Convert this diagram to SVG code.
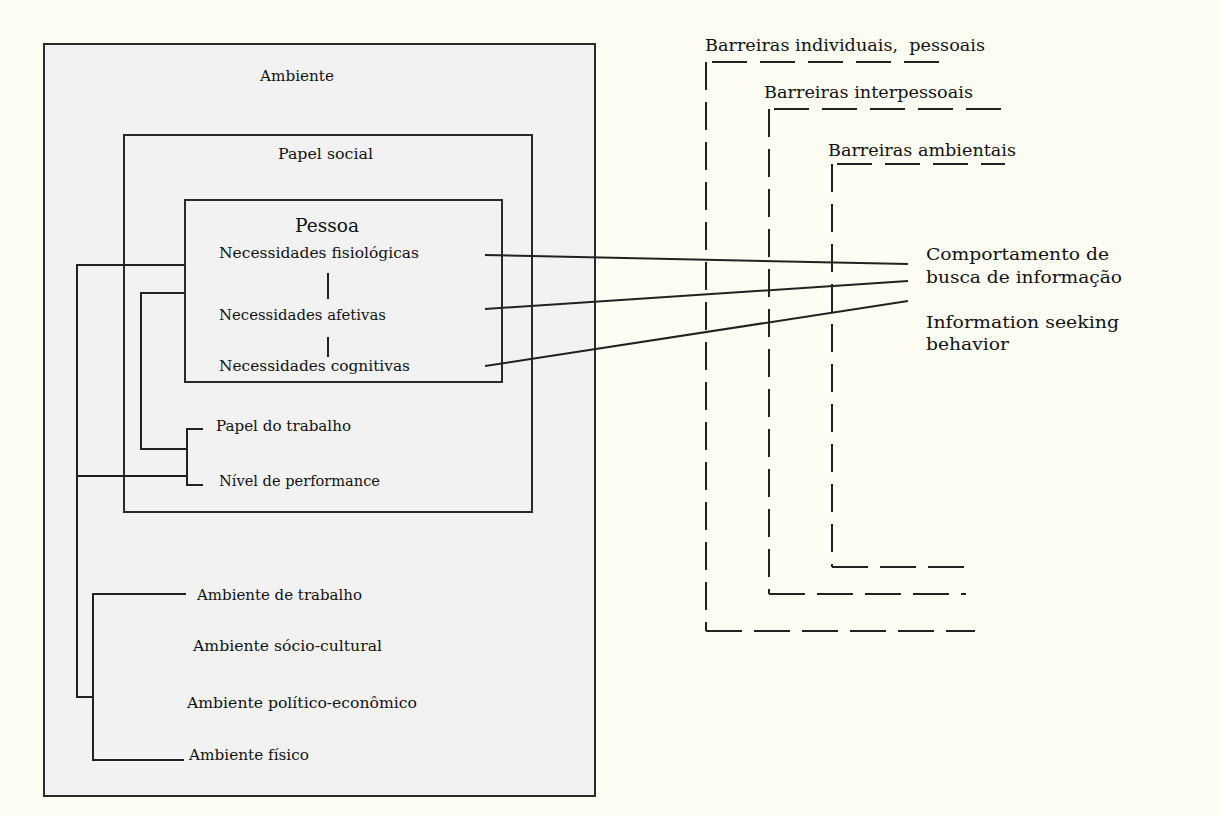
<svg xmlns="http://www.w3.org/2000/svg" width="1220" height="816" viewBox="0 0 1220 816">
<style>
.box{fill:#f2f2f2;stroke:#2a2a2a;stroke-width:2}
.t{font-family:"DejaVu Serif","Liberation Serif",serif;font-size:15px;fill:#111}
.tb{font-family:"DejaVu Serif","Liberation Serif",serif;font-size:16.5px;fill:#111}
.ln{fill:none;stroke:#222;stroke-width:2}
.dh{fill:none;stroke:#222;stroke-width:2;stroke-dasharray:35 13}
.db{fill:none;stroke:#222;stroke-width:2;stroke-dasharray:36 12}
.dv{fill:none;stroke:#222;stroke-width:2;stroke-dasharray:28 12}
</style>
<rect x="0" y="0" width="1220" height="816" fill="#fefdf4"/>
<g id="ambiente">
<rect class="box" x="44" y="44" width="551" height="752"/>
<text class="t" x="260" y="81" textLength="74" lengthAdjust="spacingAndGlyphs">Ambiente</text>
</g>
<g id="papel-social">
<rect class="box" x="124" y="135" width="408" height="377"/>
<text class="t" x="278" y="159" textLength="95" lengthAdjust="spacingAndGlyphs">Papel social</text>
</g>
<g id="pessoa">
<rect class="box" x="185" y="200" width="317" height="182"/>
<text class="t" x="295" y="232" style="font-size:18px" textLength="64" lengthAdjust="spacingAndGlyphs">Pessoa</text>
</g>
<g id="nec-fisiologicas"><text class="t" x="219" y="258" textLength="200" lengthAdjust="spacingAndGlyphs">Necessidades fisiológicas</text></g>
<g id="nec-afetivas"><text class="t" x="219" y="320" textLength="167" lengthAdjust="spacingAndGlyphs">Necessidades afetivas</text></g>
<g id="nec-cognitivas"><text class="t" x="219" y="371" textLength="191" lengthAdjust="spacingAndGlyphs">Necessidades cognitivas</text></g>
<g id="papel-trabalho"><text class="t" x="216" y="431" textLength="135" lengthAdjust="spacingAndGlyphs">Papel do trabalho</text></g>
<g id="nivel-performance"><text class="t" x="219" y="486" textLength="161" lengthAdjust="spacingAndGlyphs">Nível de performance</text></g>
<g id="amb-trabalho"><text class="t" x="197" y="600" textLength="165" lengthAdjust="spacingAndGlyphs">Ambiente de trabalho</text></g>
<g id="amb-socio"><text class="t" x="193" y="651" textLength="189" lengthAdjust="spacingAndGlyphs">Ambiente sócio-cultural</text></g>
<g id="amb-politico"><text class="t" x="187" y="708" textLength="230" lengthAdjust="spacingAndGlyphs">Ambiente político-econômico</text></g>
<g id="amb-fisico"><text class="t" x="189" y="760" textLength="120" lengthAdjust="spacingAndGlyphs">Ambiente físico</text></g>
<g id="barreiras-individuais">
<text class="tb" x="705" y="51" xml:space="preserve" textLength="280" lengthAdjust="spacingAndGlyphs">Barreiras individuais,  pessoais</text>
<path class="dh" d="M712 62 H943"/>
<path class="dv" d="M706 62 V631"/>
<path class="db" d="M706 631 H975"/>
</g>
<g id="barreiras-interpessoais">
<text class="tb" x="764" y="98" textLength="209" lengthAdjust="spacingAndGlyphs">Barreiras interpessoais</text>
<path class="dh" d="M774 109 H1005"/>
<path class="dv" d="M769 109 V594"/>
<path class="db" d="M769 594 H966"/>
</g>
<g id="barreiras-ambientais">
<text class="tb" x="828" y="156" textLength="188" lengthAdjust="spacingAndGlyphs">Barreiras ambientais</text>
<path class="dh" d="M837 164 H1005"/>
<path class="dv" d="M832 164 V567"/>
<path class="db" d="M832 567 H968"/>
</g>
<g id="comportamento">
<text class="tb" x="926" y="260" style="font-size:17px" textLength="183" lengthAdjust="spacingAndGlyphs">Comportamento de</text>
<text class="tb" x="926" y="283" style="font-size:17px" textLength="196" lengthAdjust="spacingAndGlyphs">busca de informação</text>
<text class="tb" x="926" y="328" style="font-size:17px" textLength="193" lengthAdjust="spacingAndGlyphs">Information seeking</text>
<text class="tb" x="926" y="350" style="font-size:17px" textLength="83" lengthAdjust="spacingAndGlyphs">behavior</text>
</g>
<g id="connectors">
<path class="ln" d="M185 265 H77 V697 H93"/>
<path class="ln" d="M77 476 H187"/>
<path class="ln" d="M185 293 H141 V449 H187"/>
<path class="ln" d="M203 429 H187 V485 H203"/>
<path class="ln" d="M186 594 H93 V760 H184"/>
<path class="ln" d="M328 273 V299"/>
<path class="ln" d="M328 337 V357"/>
<path class="ln" d="M485 255 L908 264"/>
<path class="ln" d="M485 309 L908 281"/>
<path class="ln" d="M485 366 L908 301"/>
</g>
</svg>
